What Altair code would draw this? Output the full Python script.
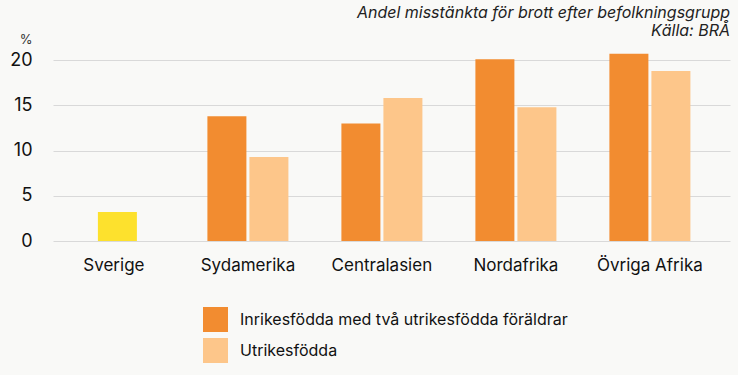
import altair as alt
import pandas as pd

categories = ["Sverige", "Sydamerika", "Centralasien", "Nordafrika", "Övriga Afrika"]
groups = ["Sydamerika", "Centralasien", "Nordafrika", "Övriga Afrika"]
series = ["Inrikesfödda med två utrikesfödda föräldrar", "Utrikesfödda"]
inrikes = [13.8, 13.0, 20.1, 20.7]
utrikes = [9.3, 15.8, 14.8, 18.8]
sverige_value = [3.2]
colors = ["#f28c30", "#fdc68a"]
sverige_color = "#fde12d"

rows = []
for g, a, b in zip(groups, inrikes, utrikes):
    rows.append({"land": g, "grupp": series[0], "andel": a})
    rows.append({"land": g, "grupp": series[1], "andel": b})
df = pd.DataFrame(rows)
df_sv = pd.DataFrame({"land": ["Sverige"], "andel": sverige_value})

FONT = "Inter"

xscale = alt.Scale(domain=categories, paddingInner=0.3955, paddingOuter=0.2239, align=0.34)
yscale = alt.Scale(domain=[0, 22], nice=False)

xaxis = alt.Axis(title=None, labelAngle=0, domain=False, ticks=False, tickSize=0,
                 labelPadding=16, labelFontSize=17, labelFont=FONT, labelColor="#111111", grid=False)
yaxis = alt.Axis(title="%", titleAngle=0, titleAlign="right", titleX=-21, titleY=1,
                 titleBaseline="alphabetic", titleFontSize=13, titleFont=FONT,
                 titleFontWeight="normal", titleColor="#333333",
                 values=[0, 5, 10, 15, 20], domain=False, ticks=False, tickSize=0,
                 labelPadding=21, labelFontSize=18, labelFont=FONT, labelColor="#111111",
                 gridColor="#d9d9d9", gridWidth=1)

grouped = alt.Chart(df).mark_bar().encode(
    x=alt.X("land:N", scale=xscale, axis=xaxis),
    xOffset=alt.XOffset("grupp:N", scale=alt.Scale(domain=series, paddingInner=0.0714, paddingOuter=0)),
    y=alt.Y("andel:Q", scale=yscale, axis=yaxis),
    color=alt.Color("grupp:N", scale=alt.Scale(domain=series, range=colors),
                    legend=alt.Legend(title=None, orient="none", legendX=150, legendY=265,
                                      direction="vertical", symbolType="square", symbolSize=625,
                                      symbolStrokeWidth=0, labelFontSize=16, labelFont=FONT,
                                      labelColor="#111111", labelOffset=12, rowPadding=6,
                                      padding=0, labelLimit=500)),
)

sverige = alt.Chart(df_sv).mark_bar(width=39, xOffset=3.5, color=sverige_color).encode(
    x=alt.X("land:N", scale=xscale, axis=xaxis),
    y=alt.Y("andel:Q", scale=yscale, axis=yaxis),
)

chart = alt.layer(grouped, sverige).properties(
    width=677, height=199,
    autosize=alt.AutoSizeParams(type="none"),
    padding={"left": 53, "top": 42, "right": 8, "bottom": 134},
    background="#f9f9f7",
    title=alt.TitleParams(text=["Andel misstänkta för brott efter befolkningsgrupp", "Källa: BRÅ"],
                          anchor="end", fontStyle="italic", fontSize=16, fontWeight="normal",
                          font=FONT, color="#222222", lineHeight=18, offset=10, dy=16),
).configure_view(stroke=None)

chart.save("out.html", embed_options={"renderer": "svg", "actions": False})
